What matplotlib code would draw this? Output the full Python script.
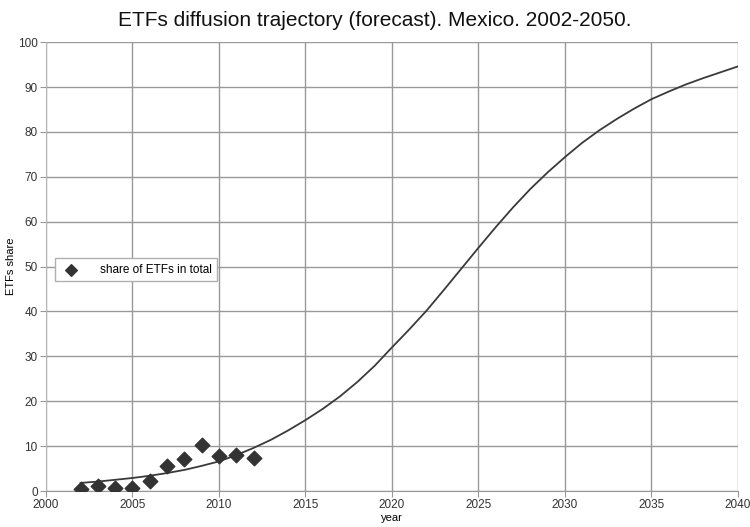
import matplotlib.pyplot as plt

plt.rcParams['font.family'] = ['Liberation Sans', 'DejaVu Sans']

# observed share of ETFs in total
obs_years = [2002, 2003, 2004, 2005, 2006, 2007, 2008, 2009, 2010, 2011, 2012]
obs_share = [0.5, 1.2, 0.6, 0.7, 2.2, 5.5, 7.2, 10.3, 7.7, 8.1, 7.3]

# forecast trajectory (one point per year)
fc_years = list(range(2002, 2041))
fc_share = [1.8, 2.1, 2.5, 2.9, 3.4, 4.0, 4.7, 5.6, 6.6, 8.0,
            9.6, 11.4, 13.5, 15.8, 18.3, 21.1, 24.3, 27.9, 32.0, 36.0,
            40.2, 44.8, 49.5, 54.2, 58.8, 63.2, 67.3, 71.0, 74.4, 77.6,
            80.4, 82.9, 85.2, 87.3, 89.0, 90.6, 92.0, 93.3, 94.6]

fig = plt.figure(figsize=(7.5, 5.27), dpi=100)
ax = fig.add_axes([0.0613, 0.0683, 0.9227, 0.8517])

ax.plot(fc_years, fc_share, color='#3a3a3a', lw=1.3, zorder=3)
ax.scatter(obs_years, obs_share, marker='D', s=55, color='#333333',
           label='share of ETFs in total', zorder=4)

ax.set_xlim(2000, 2040)
ax.set_ylim(0, 100)
ax.set_xticks(range(2000, 2041, 5))
ax.set_yticks(range(0, 101, 10))
ax.grid(True, color='#999999', lw=1.0)
ax.set_axisbelow(True)
for s in ax.spines.values():
    s.set_visible(False)
ax.spines['left'].set_visible(True)
ax.spines['left'].set_color('#b8b8b8')
ax.spines['bottom'].set_visible(True)
ax.spines['bottom'].set_color('#999999')
ax.tick_params(colors='#999999', labelcolor='#333333', labelsize=8.5,
               length=4, pad=2)

ax.set_xlabel('year', fontsize=8, labelpad=1)
# y label placed by hand so it stays inside the figure
fig.text(11 / 750, 0.494, 'ETFs share', rotation=90, fontsize=8,
         ha='center', va='center')
fig.text(0.5, 0.962, 'ETFs diffusion trajectory (forecast). Mexico. 2002-2050.',
         fontsize=15, ha='center', va='center', color='#111111')

leg = ax.legend(loc='center left', bbox_to_anchor=(0.013, 0.493), fontsize=8.5,
                frameon=True, fancybox=False, borderaxespad=0, borderpad=0.45,
                handlelength=1.8, handletextpad=1.56, markerscale=0.8)
leg.get_frame().set_edgecolor('#b0b0b0')
leg.get_frame().set_linewidth(1.0)
leg.get_frame().set_alpha(1)

fig.savefig('out.png', dpi=100)
